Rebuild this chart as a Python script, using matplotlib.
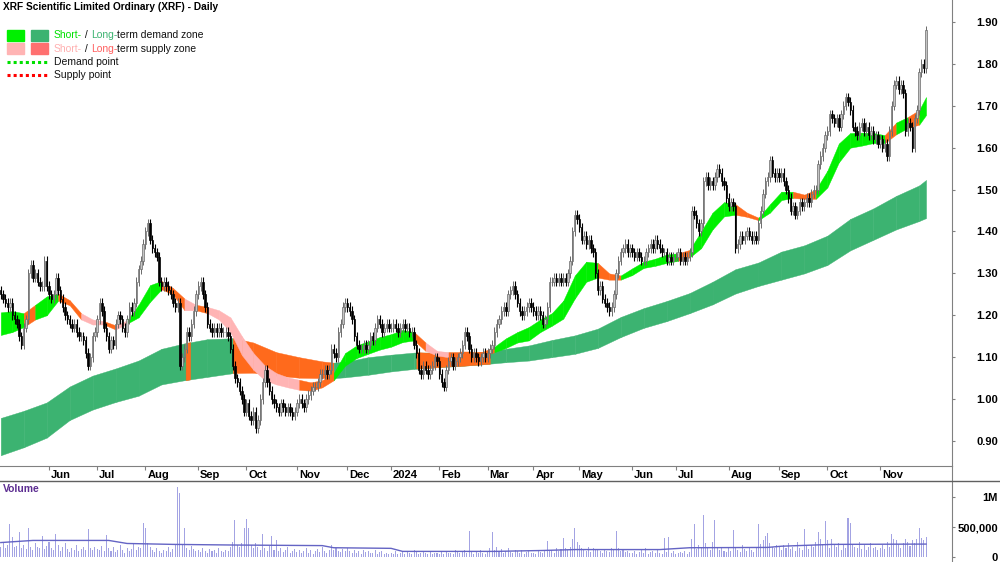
import numpy as np
import pandas as pd
import matplotlib
matplotlib.use('Agg')
import matplotlib.pyplot as plt
from matplotlib.lines import Line2D
from matplotlib.patches import Rectangle

plt.rcParams['font.family'] = ['Liberation Sans', 'DejaVu Sans']

W, H = 1000, 562

# --- trading calendar ---
START, END = '2023-05-03', '2024-11-29'
HOLIDAYS = ['2023-06-12', '2023-12-25', '2023-12-26', '2024-01-01', '2024-01-26',
            '2024-03-29', '2024-04-01', '2024-04-25', '2024-06-10']

# --- daily closes (one line per month) ---
first_open = 1.26
closes = [
    1.25, 1.24, 1.23, 1.22, 1.23, 1.20, 1.19, 1.18, 1.15, 1.13, 1.17, 1.19, 1.30, 1.32, 1.29, 1.30, 1.28, 1.27, 1.27, 1.33, 1.27,  # May 23
    1.25, 1.24, 1.25, 1.29, 1.26, 1.24, 1.22, 1.20, 1.19, 1.18, 1.17, 1.18, 1.16, 1.15, 1.15, 1.14, 1.11, 1.08, 1.10, 1.15, 1.16,  # Jun
    1.19, 1.23, 1.21, 1.17, 1.15, 1.12, 1.14, 1.13, 1.18, 1.20, 1.19, 1.17, 1.16, 1.19, 1.22, 1.21, 1.23, 1.28, 1.31, 1.33, 1.37,  # Jul
    1.40, 1.42, 1.38, 1.36, 1.35, 1.34, 1.28, 1.27, 1.28, 1.27, 1.26, 1.25, 1.23, 1.22, 1.23, 1.08, 1.10, 1.12, 1.16, 1.15, 1.18, 1.21, 1.25,  # Aug
    1.27, 1.28, 1.25, 1.22, 1.18, 1.17, 1.16, 1.17, 1.16, 1.17, 1.16, 1.16, 1.16, 1.15, 1.12, 1.08, 1.05, 1.04, 1.02, 1.00, 0.97,  # Sep
    0.99, 0.96, 0.95, 0.97, 0.93, 0.95, 1.00, 1.04, 1.07, 1.04, 1.02, 1.00, 0.99, 0.98, 0.97, 0.99, 0.98, 0.97, 0.98, 0.97, 0.96, 0.97,  # Oct
    0.99, 1.00, 0.99, 0.98, 1.00, 1.01, 1.02, 1.03, 1.03, 1.04, 1.06, 1.06, 1.07, 1.06, 1.07, 1.12, 1.11, 1.10, 1.16, 1.18, 1.22, 1.23,  # Nov
    1.22, 1.21, 1.19, 1.15, 1.13, 1.12, 1.12, 1.13, 1.12, 1.13, 1.15, 1.14, 1.17, 1.19, 1.18, 1.16, 1.17, 1.18, 1.17,  # Dec
    1.17, 1.18, 1.17, 1.16, 1.17, 1.18, 1.17, 1.17, 1.16, 1.16, 1.13, 1.11, 1.07, 1.06, 1.08, 1.07, 1.06, 1.07, 1.08, 1.10, 1.09,  # Jan 24
    1.06, 1.04, 1.03, 1.07, 1.09, 1.10, 1.08, 1.09, 1.10, 1.11, 1.13, 1.16, 1.15, 1.12, 1.10, 1.11, 1.10, 1.09, 1.10, 1.11, 1.10,  # Feb
    1.11, 1.12, 1.13, 1.16, 1.18, 1.19, 1.21, 1.22, 1.21, 1.25, 1.26, 1.27, 1.25, 1.23, 1.21, 1.20, 1.21, 1.22, 1.23, 1.22,  # Mar
    1.21, 1.20, 1.21, 1.20, 1.18, 1.19, 1.22, 1.28, 1.28, 1.29, 1.28, 1.29, 1.28, 1.29, 1.28, 1.30, 1.33, 1.40, 1.44, 1.43,  # Apr
    1.41, 1.38, 1.39, 1.37, 1.38, 1.36, 1.35, 1.30, 1.26, 1.27, 1.24, 1.23, 1.22, 1.21, 1.22, 1.25, 1.30, 1.33, 1.35, 1.36, 1.37, 1.35, 1.36,  # May
    1.35, 1.34, 1.35, 1.34, 1.33, 1.33, 1.35, 1.36, 1.37, 1.36, 1.38, 1.37, 1.36, 1.35, 1.35, 1.33, 1.34, 1.33, 1.34,  # Jun
    1.34, 1.35, 1.33, 1.34, 1.33, 1.34, 1.35, 1.45, 1.44, 1.42, 1.40, 1.42, 1.52, 1.53, 1.51, 1.52, 1.51, 1.53, 1.55, 1.54, 1.52, 1.51, 1.48,  # Jul
    1.46, 1.47, 1.46, 1.36, 1.37, 1.39, 1.38, 1.39, 1.40, 1.39, 1.38, 1.39, 1.38, 1.42, 1.45, 1.49, 1.52, 1.53, 1.57, 1.54, 1.53, 1.54,  # Aug
    1.53, 1.54, 1.52, 1.50, 1.48, 1.45, 1.46, 1.44, 1.45, 1.47, 1.46, 1.47, 1.48, 1.47, 1.49, 1.50, 1.50, 1.56, 1.58, 1.60, 1.63,  # Sep
    1.64, 1.68, 1.67, 1.66, 1.67, 1.65, 1.68, 1.70, 1.72, 1.71, 1.69, 1.65, 1.64, 1.63, 1.65, 1.66, 1.64, 1.65, 1.63, 1.64, 1.62, 1.63, 1.61,  # Oct
    1.62, 1.60, 1.61, 1.58, 1.64, 1.70, 1.75, 1.76, 1.74, 1.75, 1.73, 1.64, 1.66, 1.65, 1.60, 1.67, 1.69, 1.78, 1.80, 1.79, 1.88,  # Nov
]

# --- daily volume, thousands ---
volume_k = [
    180, 230, 150, 200, 547, 340, 170, 190, 420, 160, 210, 140, 487, 180, 120, 230, 170, 150, 350, 140, 190,
    260, 150, 130, 383, 200, 110, 170, 230, 140, 90, 160, 120, 210, 100, 140, 180, 130, 460, 150, 120, 170,
    140, 120, 190, 100, 366, 150, 110, 170, 90, 130, 200, 120, 80, 160, 110, 140, 230, 120, 180, 150, 570,
    476, 230, 180, 120, 90, 150, 110, 80, 130, 100, 170, 90, 140, 200, 1150, 1050, 210, 476, 160, 120, 190, 140, 110,
    130, 90, 160, 110, 80, 140, 100, 120, 70, 150, 110, 90, 130, 100, 180, 257, 613, 210, 170, 240, 476,
    635, 476, 200, 150, 230, 180, 120, 383, 160, 110, 190, 350, 130, 295, 100, 150, 90, 120, 170, 80, 110, 140,
    90, 130, 70, 110, 150, 80, 120, 60, 100, 140, 90, 170, 110, 80, 130, 200, 120, 160, 100, 90, 140, 110,
    150, 110, 80, 130, 70, 100, 60, 120, 90, 110, 70, 80, 130, 60, 90, 100, 50, 70, 60,
    80, 60, 100, 50, 70, 90, 60, 110, 70, 50, 120, 90, 60, 80, 100, 70, 50, 90, 60, 80, 70,
    60, 90, 50, 110, 70, 80, 60, 130, 90, 70, 100, 120, 80, 432, 90, 60, 110, 70, 130, 80, 60,
    90, 150, 420, 120, 180, 100, 140, 80, 110, 160, 90, 70, 120, 100, 80, 130, 60, 90, 110, 70,
    80, 60, 110, 90, 70, 130, 273, 100, 120, 80, 150, 110, 140, 317, 160, 130, 180, 300, 476, 250,
    200, 160, 130, 110, 180, 90, 150, 120, 140, 100, 80, 130, 110, 90, 160, 120, 432, 150, 110, 130, 90, 100, 80,
    70, 100, 60, 90, 120, 80, 150, 60, 90, 110, 70, 130, 80, 60, 312, 90, 339, 70, 100,
    60, 80, 90, 70, 110, 60, 90, 300, 547, 140, 200, 160, 695, 230, 170, 130, 250, 613, 180, 120, 150, 110, 90,
    150, 100, 449, 180, 120, 90, 200, 140, 110, 170, 130, 90, 160, 547, 220, 280, 350, 400, 240, 180, 150, 200,
    170, 120, 200, 150, 230, 140, 180, 110, 250, 160, 120, 460, 190, 140, 210, 170, 250, 420, 300, 220, 596,
    280, 150, 300, 200, 170, 240, 130, 210, 160, 640, 558, 220, 180, 150, 250, 140, 200, 120, 180, 230, 150, 170, 130,
    160, 200, 140, 250, 180, 383, 300, 280, 220, 150, 240, 300, 260, 190, 280, 230, 310, 476, 320, 280, 328,
]

# volume moving average (thousands) at day index
vol_ma_x = [0, 14, 47, 55, 75, 100, 140, 145, 170, 175, 215, 236, 250, 287, 300, 334, 340, 362, 403]
vol_ma_k = [245, 280, 280, 230, 215, 205, 195, 160, 150, 100, 100, 115, 130, 130, 160, 165, 185, 215, 220]

# short-term band, every 5 days; colour code G=demand, P=supply, O=overlap
st_x = list(range(0, 401, 5)) + [403]
st_hi = [1.207, 1.210, 1.205, 1.225, 1.245, 1.252, 1.236, 1.205, 1.190, 1.186,
         1.176, 1.188, 1.225, 1.272, 1.282, 1.265, 1.240, 1.225, 1.220, 1.212,
         1.195, 1.150, 1.110, 1.080, 1.062, 1.052, 1.046, 1.040, 1.045, 1.062,
         1.110, 1.128, 1.138, 1.148, 1.155, 1.165, 1.160, 1.135, 1.115, 1.112,
         1.112, 1.112, 1.113, 1.125, 1.145, 1.160, 1.172, 1.190, 1.205, 1.235,
         1.295, 1.328, 1.325, 1.300, 1.295, 1.312, 1.328, 1.335, 1.345, 1.348,
         1.356, 1.400, 1.445, 1.470, 1.465, 1.445, 1.433, 1.465, 1.495, 1.495,
         1.488, 1.500, 1.545, 1.610, 1.635, 1.636, 1.635, 1.630, 1.660, 1.673,
         1.690, 1.721]
st_lo = [1.153, 1.160, 1.172, 1.190, 1.200, 1.235, 1.224, 1.190, 1.178, 1.178,
         1.166, 1.180, 1.195, 1.232, 1.262, 1.250, 1.212, 1.212, 1.205, 1.190,
         1.160, 1.105, 1.070, 1.045, 1.035, 1.028, 1.022, 1.020, 1.028, 1.045,
         1.080, 1.098, 1.108, 1.118, 1.125, 1.136, 1.140, 1.115, 1.104, 1.100,
         1.102, 1.102, 1.103, 1.112, 1.122, 1.135, 1.140, 1.160, 1.175, 1.192,
         1.240, 1.280, 1.290, 1.285, 1.285, 1.296, 1.313, 1.318, 1.325, 1.330,
         1.338, 1.360, 1.405, 1.436, 1.440, 1.435, 1.427, 1.445, 1.475, 1.480,
         1.478, 1.478, 1.505, 1.565, 1.600, 1.605, 1.611, 1.611, 1.632, 1.647,
         1.655, 1.678]
st_code = ("GGOGGOOPPO" "PGGGOOPOPP" "PPPPPPOOOG" "GGGGGGOPPO" "OOOGGGGGGG"
           "GGOOGGGGGO" "GGGGOOGGGO" "OGGGGGGOGO" "GG")

# long-term band
lt_x = [0, 10, 20, 30, 40, 50, 60, 70, 80, 90, 100, 101, 110, 120, 130, 140, 145,
        150, 160, 170, 180, 190, 200, 210, 220, 230, 240, 250, 260, 270, 280, 290,
        300, 310, 320, 330, 340, 350, 360, 370, 380, 390, 400, 403]
lt_hi = [0.955, 0.972, 0.992, 1.030, 1.056, 1.073, 1.092, 1.120, 1.133, 1.143, 1.145, 1.146,
         1.135, 1.112, 1.100, 1.090, 1.087, 1.089, 1.100, 1.106, 1.111, 1.111, 1.111, 1.112,
         1.120, 1.128, 1.141, 1.152, 1.168, 1.196, 1.217, 1.234, 1.253, 1.280, 1.310, 1.326,
         1.352, 1.367, 1.390, 1.430, 1.455, 1.485, 1.510, 1.523]
lt_lo = [0.866, 0.885, 0.908, 0.950, 0.975, 0.993, 1.008, 1.035, 1.045, 1.053, 1.061, 1.062,
         1.063, 1.056, 1.051, 1.050, 1.050, 1.052, 1.058, 1.066, 1.072, 1.076, 1.079, 1.083,
         1.088, 1.092, 1.100, 1.108, 1.122, 1.148, 1.170, 1.186, 1.205, 1.226, 1.252, 1.270,
         1.285, 1.300, 1.320, 1.355, 1.380, 1.405, 1.425, 1.432]
lt_supply_from, lt_supply_to = 101, 145

# overlap patches drawn over the long-term band
patch1_x = [80.5, 82.5]
patch1_lo = [1.045, 1.047]
patch1_hi = [1.134, 1.136]
patch2_x = [181, 185, 190, 195, 200, 205, 210, 213]
patch2_lo = [1.073, 1.074, 1.076, 1.078, 1.079, 1.081, 1.083, 1.084]
patch2_hi = [1.112, 1.111, 1.111, 1.111, 1.111, 1.111, 1.112, 1.112]

price_ticks = [0.90, 1.00, 1.10, 1.20, 1.30, 1.40, 1.50, 1.60, 1.70, 1.80, 1.90]
vol_ticks = [0, 500000, 1000000]
vol_labels = ['0', '500,000', '1M']

# colours
C_ST = {'G': '#00f000', 'P': '#ffb4b4', 'O': '#ff6a1c'}
C_LT_D = '#3cb371'
C_LT_S = '#ff6a1c'
C_UP_FACE, C_UP_EDGE = '#c4c4c4', '#6a6a6a'
C_GREY = '#808080'

# ---------------------------------------------------------------
days = pd.bdate_range(START, END)
days = days[~days.isin(pd.to_datetime(HOLIDAYS))]
n = len(closes)
days = days[:n]
idx = np.arange(n)
c = np.array(closes)
o = np.concatenate([[first_open], c[:-1]])
up = c >= o

fig = plt.figure(figsize=(W / 100, H / 100), dpi=100)
fig.patch.set_facecolor('white')

XMIN, XMAX = -0.34, 414.3
ax = fig.add_axes([0, 1 - 466 / H, 952 / W, 466 / H])
ax.set_xlim(XMIN, XMAX)
ax.set_ylim(0.8403, 1.9525)

# long-term band
for k in range(len(lt_x) - 1):
    col = C_LT_S if lt_supply_from <= lt_x[k] < lt_supply_to else C_LT_D
    ax.fill_between(lt_x[k:k + 2], lt_lo[k:k + 2], lt_hi[k:k + 2], color=col,
                    lw=0.3, ec=col, zorder=1)
for px, plo, phi in [(patch1_x, patch1_lo, patch1_hi), (patch2_x, patch2_lo, patch2_hi)]:
    ax.fill_between(px, plo, phi, color=C_LT_S, lw=0.3, ec=C_LT_S, zorder=1.5)

# short-term band
for k in range(len(st_x) - 1):
    col = C_ST[st_code[k]]
    ax.fill_between(st_x[k:k + 2], st_lo[k:k + 2], st_hi[k:k + 2], color=col,
                    lw=0.3, ec=col, zorder=2)

# candles
WICK = 0.011
body_lo = np.minimum(o, c)
body_hi = np.maximum(o, c)
ax.vlines(idx[up], body_lo[up] - WICK, body_hi[up] + WICK, color=C_UP_EDGE, lw=0.7, zorder=3)
ax.vlines(idx[~up], body_lo[~up] - WICK, body_hi[~up] + WICK, color='black', lw=0.8, zorder=3)
ax.bar(idx[up], (body_hi - body_lo)[up], bottom=body_lo[up], width=0.62,
       color=C_UP_FACE, edgecolor=C_UP_EDGE, lw=0.5, zorder=4)
ax.bar(idx[~up], (body_hi - body_lo)[~up], bottom=body_lo[~up], width=0.62,
       color='black', edgecolor='black', lw=0.5, zorder=4)

for s in ['left', 'top', 'bottom']:
    ax.spines[s].set_visible(False)
ax.spines['right'].set_color(C_GREY)
ax.set_xticks([])
ax.yaxis.tick_right()
ax.set_yticks(price_ticks, [f'{v:.2f}' for v in price_ticks], fontweight='bold', ha='right')
ax.tick_params(axis='y', length=2, color=C_GREY, labelsize=8, pad=31)

# date band
axd = fig.add_axes([0, 1 - 481 / H, 952 / W, 15 / H], sharex=ax)
axd.set_ylim(0, 1)
for s in ['left', 'bottom']:
    axd.spines[s].set_visible(False)
axd.spines['top'].set_color(C_GREY)
axd.spines['right'].set_color(C_GREY)
axd.set_yticks([])
axd.tick_params(axis='x', bottom=False, labelbottom=False)
month_start = np.where(np.r_[True, days.month[1:] != days.month[:-1]])[0]
for m in month_start:
    if m == 0:
        continue
    d = days[m]
    lab = str(d.year) if d.month == 1 else d.strftime('%b')
    axd.vlines(m, 0.72, 1.0, color=C_GREY, lw=0.8)
    axd.text(m + 0.8, 0.38, lab, fontsize=8, fontweight='bold', ha='left', va='center')
fig.add_artist(Line2D([0, 1], [1 - 481 / H, 1 - 481 / H], color='#606060', lw=1))

# volume
axv = fig.add_axes([0, 0, 952 / W, 81 / H], sharex=ax)
axv.set_ylim(-74000, 1255000)
vol = np.array(volume_k) * 1000
axv.bar(idx, vol, width=0.45, color='#a3a3e3', lw=0)
axv.plot(vol_ma_x, np.array(vol_ma_k) * 1000, color='#6464c4', lw=1)
for s in ['left', 'top', 'bottom']:
    axv.spines[s].set_visible(False)
axv.spines['right'].set_color(C_GREY)
axv.tick_params(axis='x', bottom=False, labelbottom=False)
axv.yaxis.tick_right()
axv.set_yticks(vol_ticks, vol_labels, fontweight='bold', ha='right')
axv.tick_params(axis='y', length=2, color=C_GREY, labelsize=8, pad=31)
fig.text(3 / W, 1 - 489 / H, 'Volume', color='#5c2d91', fontsize=7.5, fontweight='bold',
         ha='left', va='center')

# title and legend
fig.text(3 / W, 1 - 7 / H, 'XRF Scientific Limited Ordinary (XRF) - Daily',
         fontsize=7.3, fontweight='bold', ha='left', va='center')


def fx(x):
    return x / W


def fy(y):
    return 1 - y / H


for (x0, col) in [(7, '#00f000'), (31, C_LT_D)]:
    fig.add_artist(Rectangle((fx(x0), fy(41)), 17 / W, 11 / H, color=col,
                             transform=fig.transFigure))
for (x0, col) in [(7, '#ffb4b4'), (31, '#ff7070')]:
    fig.add_artist(Rectangle((fx(x0), fy(54)), 17 / W, 11 / H, color=col,
                             transform=fig.transFigure))
fig.add_artist(Line2D([fx(7), fx(47)], [fy(62), fy(62)], color='#00e000', lw=2.2,
                      dashes=(1, 1), transform=fig.transFigure))
fig.add_artist(Line2D([fx(7), fx(47)], [fy(75), fy(75)], color='#ff0000', lw=2.2,
                      dashes=(1, 1), transform=fig.transFigure))

renderer = fig.canvas.get_renderer()


def colored_text(x_px, y_px, parts):
    x = x_px
    for s, col in parts:
        t = fig.text(fx(x), fy(y_px), s, color=col, fontsize=7.5, ha='left', va='center')
        x += t.get_window_extent(renderer=renderer).width


colored_text(54, 35.5, [('Short-', '#00e000'), (' / ', '#111111'), ('Long-', C_LT_D),
                        ('term demand zone', '#111111')])
colored_text(54, 48.5, [('Short-', '#ffb0b0'), (' / ', '#111111'), ('Long-', '#ff6060'),
                        ('term supply zone', '#111111')])
colored_text(54, 62, [('Demand point', '#111111')])
colored_text(54, 75, [('Supply point', '#111111')])

fig.savefig('out.png', dpi=100, facecolor='white')
